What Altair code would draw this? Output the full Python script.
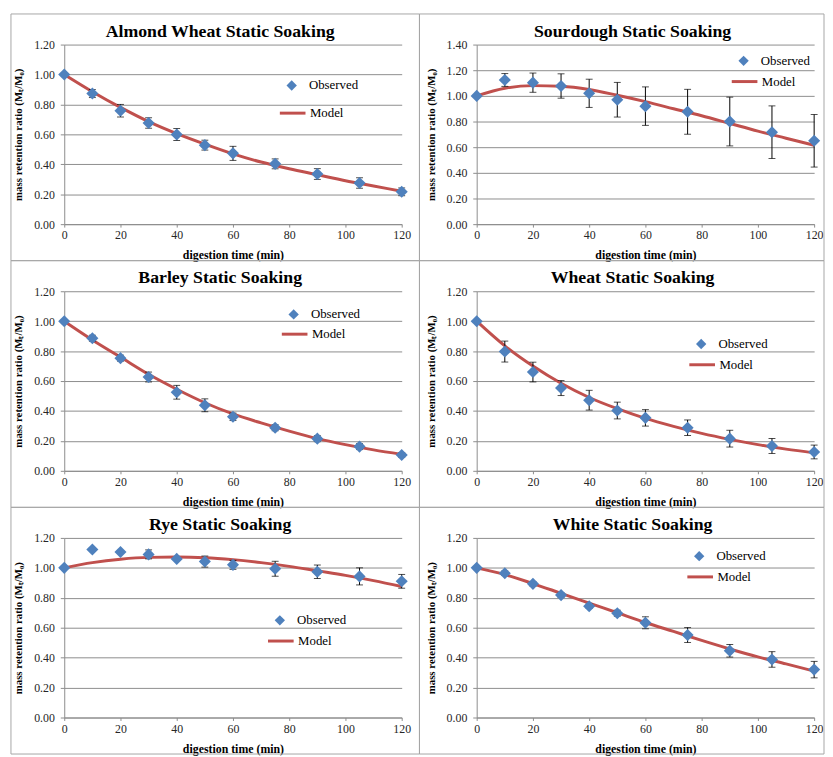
import altair as alt
import pandas as pd

# ---------------- data ----------------
times = [0, 10, 20, 30, 40, 50, 60, 75, 90, 105, 120]
model_times = [0, 10, 20, 30, 40, 50, 60, 70, 80, 90, 100, 110, 120]

titles = [
    "Almond Wheat Static Soaking",
    "Sourdough Static Soaking",
    "Barley Static Soaking",
    "Wheat Static Soaking",
    "Rye Static Soaking",
    "White Static Soaking",
]

almond_obs = [1.00, 0.873, 0.758, 0.676, 0.599, 0.528, 0.473, 0.403, 0.335, 0.275, 0.216]
almond_err = [0.005, 0.027, 0.042, 0.035, 0.040, 0.033, 0.047, 0.033, 0.036, 0.035, 0.026]
almond_model = [1.00, 0.885, 0.78, 0.685, 0.605, 0.535, 0.47, 0.415, 0.37, 0.33, 0.29, 0.255, 0.22]

sourdough_obs = [1.00, 1.124, 1.103, 1.077, 1.02, 0.97, 0.92, 0.876, 0.80, 0.717, 0.65]
sourdough_err = [0.0, 0.05, 0.075, 0.095, 0.11, 0.135, 0.15, 0.175, 0.19, 0.205, 0.205]
sourdough_model = [1.00, 1.06, 1.08, 1.075, 1.05, 1.005, 0.955, 0.90, 0.845, 0.785, 0.725, 0.67, 0.615]

barley_obs = [1.00, 0.886, 0.753, 0.627, 0.525, 0.438, 0.361, 0.288, 0.215, 0.162, 0.106]
barley_err = [0.0, 0.02, 0.02, 0.033, 0.046, 0.043, 0.025, 0.02, 0.02, 0.02, 0.015]
barley_model = [1.00, 0.875, 0.76, 0.645, 0.545, 0.455, 0.38, 0.32, 0.265, 0.215, 0.175, 0.14, 0.11]

wheat_obs = [1.00, 0.797, 0.66, 0.553, 0.472, 0.403, 0.354, 0.288, 0.215, 0.166, 0.126]
wheat_err = [0.0, 0.07, 0.066, 0.05, 0.066, 0.056, 0.055, 0.052, 0.056, 0.05, 0.046]
wheat_model = [1.00, 0.835, 0.70, 0.585, 0.49, 0.415, 0.35, 0.297, 0.25, 0.21, 0.175, 0.145, 0.12]

rye_obs = [1.00, 1.123, 1.106, 1.09, 1.06, 1.042, 1.02, 0.994, 0.974, 0.943, 0.91]
rye_err = [0.0, 0.0, 0.0, 0.03, 0.01, 0.037, 0.03, 0.05, 0.045, 0.057, 0.046]
rye_model = [1.00, 1.035, 1.058, 1.07, 1.072, 1.068, 1.055, 1.035, 1.01, 0.98, 0.95, 0.915, 0.875]

white_obs = [1.00, 0.964, 0.893, 0.818, 0.744, 0.697, 0.633, 0.551, 0.446, 0.388, 0.32]
white_err = [0.01, 0.015, 0.015, 0.015, 0.015, 0.02, 0.04, 0.05, 0.042, 0.052, 0.055]
white_model = [1.00, 0.955, 0.895, 0.83, 0.765, 0.70, 0.635, 0.575, 0.515, 0.458, 0.405, 0.358, 0.31]

obs_sets = [almond_obs, sourdough_obs, barley_obs, wheat_obs, rye_obs, white_obs]
err_sets = [almond_err, sourdough_err, barley_err, wheat_err, rye_err, white_err]
model_sets = [almond_model, sourdough_model, barley_model, wheat_model, rye_model, white_model]
y_max = [1.2, 1.4, 1.2, 1.2, 1.2, 1.2]
y_tick_sets = [
    [0.0, 0.2, 0.4, 0.6, 0.8, 1.0, 1.2],
    [0.0, 0.2, 0.4, 0.6, 0.8, 1.0, 1.2, 1.4],
    [0.0, 0.2, 0.4, 0.6, 0.8, 1.0, 1.2],
    [0.0, 0.2, 0.4, 0.6, 0.8, 1.0, 1.2],
    [0.0, 0.2, 0.4, 0.6, 0.8, 1.0, 1.2],
    [0.0, 0.2, 0.4, 0.6, 0.8, 1.0, 1.2],
]

# legend anchor (observed diamond centre x,y ; model line centre y), relative to plot origin
legend_anchor = [(230, 39, 67), (270, 14, 35), (232, 21, 41), (227, 51, 72), (218, 81, 102), (225, 16, 37)]

x_ticks = [0, 20, 40, 60, 80, 100, 120]

# ---------------- style ----------------
BLUE = "#4f81bd"
RED = "#c0504d"
GRID = "#8c8c8c"
FRAME = "#a6a6a6"
SERIF = "Liberation Serif"
W, H = 342, 182


def panel(i):
    obs = obs_sets[i]
    err = err_sets[i]
    df_obs = pd.DataFrame({
        "t": times,
        "m": obs,
        "lo": [o - e for o, e in zip(obs, err)],
        "hi": [o + e for o, e in zip(obs, err)],
        "s": ["Observed"] * len(times),
    })
    df_mod = pd.DataFrame({"t": model_times, "m": model_sets[i], "s": ["Model"] * len(model_times)})
    ymax = y_max[i]

    x_axis = alt.Axis(values=x_ticks, title="digestion time (min)", grid=False,
                      labelFlush=False, labelOverlap=False, tickSize=3, labelPadding=3, titlePadding=9)
    y_axis = alt.Axis(values=y_tick_sets[i], format=".2f", title="mass retention ratio (Mₜ/M₀)",
                      labelFlush=False, labelOverlap=False, tickSize=4, labelPadding=6, titlePadding=10)
    xs = alt.Scale(domain=[0, 120], nice=False)
    ys = alt.Scale(domain=[0, ymax], nice=False)
    x = alt.X("t:Q", scale=xs, axis=x_axis)

    cx, cy, my = legend_anchor[i]
    col = i % 2
    fx0 = -54 if col == 0 else -58
    fx1 = 360 if col == 0 else 352
    frame = alt.Chart(pd.DataFrame({"k": [0]})).mark_rect(
        fillOpacity=0, stroke=FRAME, strokeWidth=1, clip=False
    ).encode(x=alt.value(fx0), x2=alt.value(fx1), y=alt.value(-31), y2=alt.value(219))

    title = alt.Chart(pd.DataFrame({"title": [titles[i]]})).mark_text(
        font=SERIF, fontSize=18, fontWeight="bold", color="black", align="center", baseline="middle"
    ).encode(text="title:N", x=alt.value(158), y=alt.value(-13))

    line = alt.Chart(df_mod).mark_line(strokeWidth=3, interpolate="monotone").encode(
        x=x, y=alt.Y("m:Q", scale=ys, axis=y_axis),
        color=alt.Color("s:N", scale=alt.Scale(domain=["Model"], range=[RED]),
                        legend=alt.Legend(title=None, orient="none", legendX=cx - 13, legendY=my - 12,
                                          symbolType="stroke", symbolSize=676, symbolStrokeWidth=3,
                                          labelOffset=3, padding=0, labelFont=SERIF, labelFontSize=13,
                                          labelColor="black")),
    )
    rule = alt.Chart(df_obs).mark_rule(color="black", strokeWidth=1).encode(
        x=x, y=alt.Y("lo:Q", scale=ys, axis=y_axis), y2="hi:Q")
    cap_lo = alt.Chart(df_obs).mark_tick(color="black", orient="horizontal", size=7, thickness=1).encode(
        x=x, y=alt.Y("lo:Q", scale=ys, axis=y_axis))
    cap_hi = alt.Chart(df_obs).mark_tick(color="black", orient="horizontal", size=7, thickness=1).encode(
        x=x, y=alt.Y("hi:Q", scale=ys, axis=y_axis))
    pts = alt.Chart(df_obs).mark_point(filled=True, size=150, color=BLUE, opacity=1).encode(
        x=x, y=alt.Y("m:Q", scale=ys, axis=y_axis),
        shape=alt.Shape("s:N", scale=alt.Scale(domain=["Observed"], range=["diamond"]),
                        legend=alt.Legend(title=None, orient="none", legendX=cx - 6, legendY=cy - 4,
                                          symbolSize=110, labelOffset=11, padding=0,
                                          symbolFillColor=BLUE, symbolStrokeWidth=0,
                                          labelFont=SERIF, labelFontSize=13, labelColor="black")),
    )

    return alt.layer(frame, title, line, rule, cap_lo, cap_hi, pts).resolve_scale(
        color="independent", shape="independent"
    ).properties(width=W, height=H)


panels = [panel(i) for i in range(6)]

chart = alt.concat(*panels, columns=2, bounds="flush",
                   spacing={"row": 68, "column": 76}).resolve_scale(
    color="independent", shape="independent"
).resolve_legend(color="independent", shape="independent").properties(
    padding={"left": 2, "top": 0, "right": 0, "bottom": 0},
).configure_view(stroke=None).configure_axis(
    labelFont=SERIF, labelFontSize=12, labelColor="#262626",
    titleFont=SERIF, titleColor="black", titleFontWeight="bold",
    domainColor=GRID, tickColor=GRID, gridColor=GRID, gridWidth=1,
).configure_axisX(titleFontSize=12).configure_axisY(titleFontSize=11)

chart.save("out.html", embed_options={"renderer": "svg", "actions": False})
